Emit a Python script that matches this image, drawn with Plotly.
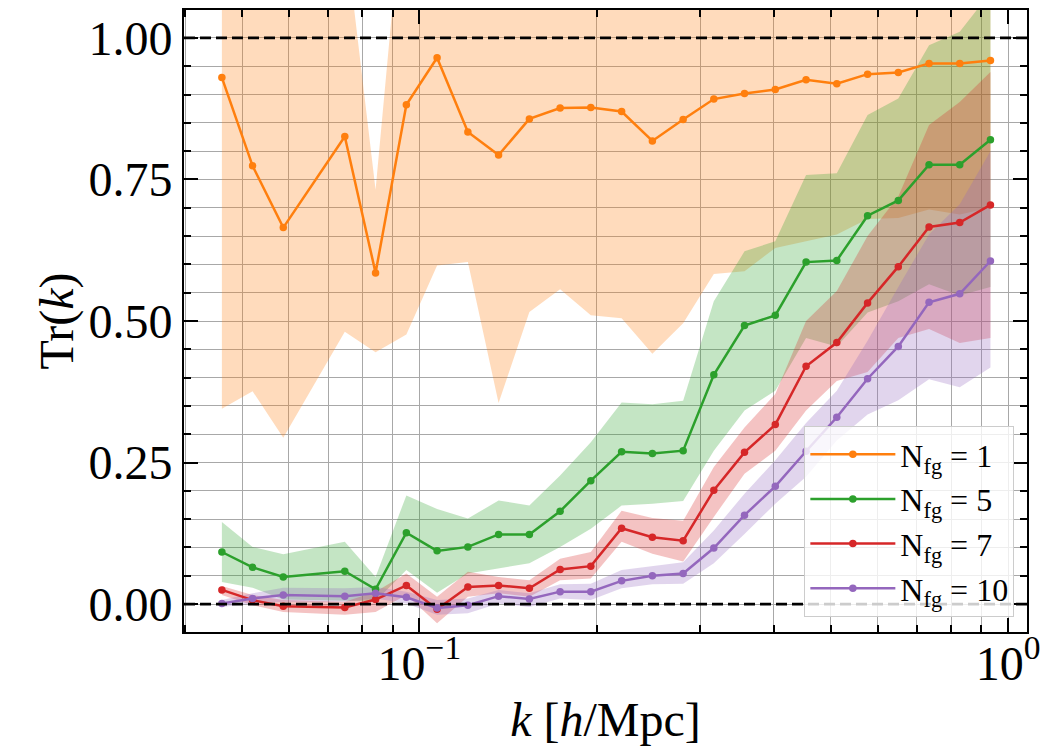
import plotly.graph_objects as go

# k bins [h/Mpc]
k = [0.04617, 0.05206, 0.05870, 0.07467, 0.08422, 0.09500, 0.10713, 0.12084,
     0.13627, 0.15370, 0.17334, 0.19546, 0.22048, 0.24867, 0.28048, 0.31623,
     0.35655, 0.40218, 0.45363, 0.51158, 0.57702, 0.65069, 0.73386, 0.82746, 0.93304]

# N_fg = 1
tr1 = [0.930, 0.774, 0.665, 0.826, 0.585, 0.882, 0.965, 0.834, 0.793, 0.857, 0.876, 0.877,
       0.870, 0.818, 0.856, 0.892, 0.902, 0.909, 0.926, 0.919, 0.936, 0.939, 0.955, 0.955, 0.960]
lo1 = [0.345, 0.376, 0.294, 0.481, 0.445, 0.476, 0.598, 0.604, 0.355, 0.516, 0.556, 0.510,
       0.505, 0.442, 0.496, 0.583, 0.588, 0.629, 0.641, 0.653, 0.680, 0.682, 0.697, 0.688, 0.700]
hi1 = [1.515, 1.172, 1.100, 1.190, 0.732, 1.320, 1.332, 1.070, 1.231, 1.198, 1.196, 1.244,
       1.235, 1.194, 1.216, 1.201, 1.216, 1.189, 1.211, 1.185, 1.192, 1.196, 1.213, 1.222, 1.220]

# N_fg = 5
tr5 = [0.092, 0.065, 0.048, 0.058, 0.026, 0.126, 0.094, 0.101, 0.123, 0.123, 0.164, 0.218,
       0.269, 0.266, 0.271, 0.405, 0.492, 0.510, 0.604, 0.607, 0.686, 0.713, 0.776, 0.776, 0.820]
lo5 = [0.039, 0.029, 0.008, 0.006, 0.005, 0.060, 0.020, 0.054, 0.063, 0.072, 0.101, 0.133,
       0.174, 0.177, 0.182, 0.271, 0.342, 0.377, 0.470, 0.455, 0.515, 0.535, 0.565, 0.545, 0.560]
hi5 = [0.145, 0.101, 0.088, 0.110, 0.048, 0.192, 0.168, 0.151, 0.183, 0.174, 0.227, 0.286,
       0.356, 0.353, 0.359, 0.535, 0.623, 0.641, 0.758, 0.761, 0.864, 0.893, 0.987, 1.011, 1.080]

# N_fg = 7
tr7 = [0.025, 0.007, -0.004, -0.006, 0.008, 0.033, -0.009, 0.030, 0.033, 0.028, 0.061, 0.067,
       0.134, 0.118, 0.112, 0.201, 0.268, 0.317, 0.420, 0.462, 0.532, 0.596, 0.666, 0.674, 0.705]
lo7 = [0.016, -0.002, -0.014, -0.019, -0.014, 0.016, -0.034, 0.013, 0.019, 0.013, 0.042, 0.045,
       0.110, 0.089, 0.075, 0.154, 0.230, 0.271, 0.342, 0.394, 0.410, 0.470, 0.486, 0.461, 0.470]
hi7 = [0.032, 0.016, 0.007, 0.004, 0.022, 0.054, 0.013, 0.057, 0.048, 0.042, 0.080, 0.092,
       0.165, 0.152, 0.147, 0.242, 0.312, 0.371, 0.500, 0.553, 0.650, 0.720, 0.846, 0.887, 0.940]

# N_fg = 10
tr10 = [0.001, 0.010, 0.016, 0.014, 0.019, 0.012, -0.007, -0.002, 0.014, 0.009, 0.022, 0.022,
        0.041, 0.050, 0.054, 0.099, 0.157, 0.208, 0.270, 0.330, 0.398, 0.455, 0.533, 0.548, 0.606]
lo10 = [-0.005, 0.001, 0.004, 0.004, 0.010, 0.001, -0.019, -0.016, 0.001, -0.005, 0.010, 0.007,
        0.028, 0.035, 0.036, 0.072, 0.124, 0.177, 0.225, 0.289, 0.335, 0.360, 0.397, 0.383, 0.418]
hi10 = [0.007, 0.019, 0.029, 0.028, 0.030, 0.022, 0.007, 0.010, 0.025, 0.019, 0.035, 0.036,
        0.060, 0.067, 0.074, 0.130, 0.195, 0.254, 0.320, 0.377, 0.465, 0.560, 0.653, 0.706, 0.800]

labels = ["N<sub>fg</sub> = 1", "N<sub>fg</sub> = 5", "N<sub>fg</sub> = 7", "N<sub>fg</sub> = 10"]
colors = ["#ff7f0e", "#2ca02c", "#d62728", "#9467bd"]
fills = ["rgba(255,127,14,0.28)", "rgba(44,160,44,0.28)", "rgba(214,39,40,0.28)", "rgba(148,103,189,0.28)"]

series = [(tr1, lo1, hi1), (tr5, lo5, hi5), (tr7, lo7, hi7), (tr10, lo10, hi10)]

FONT = "Liberation Serif"

fig = go.Figure()

# bands
for (tr, lo, hi), fc in zip(series, fills):
    fig.add_trace(go.Scatter(x=k, y=lo, mode="lines", line=dict(width=0, color=fc),
                             showlegend=False, hoverinfo="skip"))
    fig.add_trace(go.Scatter(x=k, y=hi, mode="lines", line=dict(width=0, color=fc),
                             fill="tonexty", fillcolor=fc, showlegend=False, hoverinfo="skip"))

# lines
for i, ((tr, lo, hi), c, lab) in enumerate(zip(series, colors, labels)):
    fig.add_trace(go.Scatter(x=k, y=tr, mode="lines+markers", name=lab, legendgroup=f"g{i}",
                             line=dict(color=c, width=2.5),
                             marker=dict(color=c, size=7.5)))

# reference dashed lines
for yv in [0.0, 1.0]:
    fig.add_shape(type="line", xref="paper", x0=0, x1=1, yref="y", y0=yv, y1=yv,
                  line=dict(color="black", width=2.6, dash="11px,5px"), layer="above")

minor_x = [0.04, 0.05, 0.06, 0.07, 0.08, 0.09, 0.2, 0.3, 0.4, 0.5, 0.6, 0.7, 0.8, 0.9]

fig.update_layout(
    width=1048, height=751,
    margin=dict(l=184, r=12, t=8, b=119),
    paper_bgcolor="white", plot_bgcolor="white",
    font=dict(family=FONT, size=48, color="black"),
    showlegend=True,
    legend=dict(x=0.985, xanchor="right", y=0.024, yanchor="bottom",
                traceorder="normal", tracegroupgap=14, itemwidth=85,
                bgcolor="rgba(255,255,255,0.8)", bordercolor="#cccccc", borderwidth=1,
                font=dict(family=FONT, size=32, color="black")),
)

fig.update_xaxes(
    type="log", range=[-1.40, 0.032],
    tickmode="array", tickvals=[0.1, 1.0], ticktext=["10<sup>\u22121</sup>", "10<sup>0</sup>"],
    ticklabeloverflow="allow", ticklabelstandoff=-12,
    ticks="inside", ticklen=14, tickwidth=1.5, tickcolor="black",
    showline=True, linewidth=2, linecolor="black", mirror="allticks",
    showgrid=True, gridcolor="#a8a8a8", gridwidth=1,
    minor=dict(tickmode="array", tickvals=minor_x, ticks="inside", ticklen=7,
               tickcolor="black", showgrid=True, gridcolor="#a8a8a8", gridwidth=1),
    tickfont=dict(family=FONT, size=48),
    title=dict(text="<i>k</i> [<i>h</i>/Mpc]", font=dict(family=FONT, size=48), standoff=14),
    zeroline=False,
)

fig.update_yaxes(
    range=[-0.0493, 1.0493],
    tickmode="array", tickvals=[0, 0.25, 0.5, 0.75, 1.0],
    ticktext=["0.00", "0.25", "0.50", "0.75", "1.00"],
    ticks="inside", ticklen=14, tickwidth=1.5, tickcolor="black",
    showline=True, linewidth=2, linecolor="black", mirror="allticks",
    showgrid=True, gridcolor="#a8a8a8", gridwidth=1,
    minor=dict(dtick=0.05, ticks="inside", ticklen=7, tickcolor="black",
               showgrid=True, gridcolor="#a8a8a8", gridwidth=1),
    tickfont=dict(family=FONT, size=48),
    title=dict(text="Tr(<i>k</i>)", font=dict(family=FONT, size=48), standoff=0),
    zeroline=False,
)

fig.write_html("out.html")
